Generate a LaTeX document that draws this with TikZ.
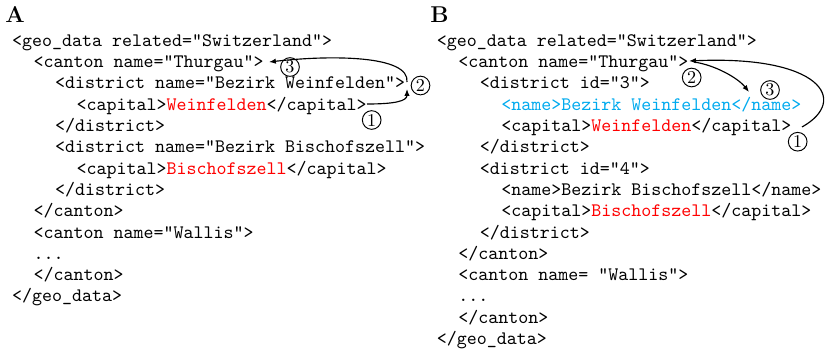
\documentclass[tikz,border=0pt]{standalone}
\usetikzlibrary{arrows.meta}
\definecolor{xcyan}{RGB}{0,170,238}
\definecolor{xred}{RGB}{255,0,0}
\tikzset{
  code/.style={anchor=base west,inner sep=0pt,font=\fontsize{10}{12}\selectfont\ttfamily},
  head/.style={anchor=base west,inner sep=0pt,font=\fontsize{12}{14}\selectfont\bfseries},
  num/.style={draw,circle,inner sep=0pt,minimum size=9.8pt,line width=0.5pt,font=\fontsize{9.5}{10}\selectfont},
  arr/.style={line width=0.6pt,-{Latex[length=3.6pt,width=2.8pt]}}
}
\newcommand{\rd}[1]{\textcolor{xred}{#1}}
\begin{document}
\begin{tikzpicture}[x=0.525pt,y=-0.525pt]
\useasboundingbox (0,0) rectangle (827,348);
% ---------- A ----------
\node[head] (hA) at (5,22) {A};
\node[code] (a1) at (11.8,46.3) {<geo\_data related="Switzerland">};
\node[code] (a2) at (33.3,67.6) {<canton name="Thurgau">};
\node[code] (a3) at (54.8,88.9) {<district name="Bezirk Weinfelden">};
\node[code] (a4) at (76.3,110.2) {<capital>\rd{Weinfelden}</capital>};
\node[code] (a5) at (54.8,131.5) {</district>};
\node[code] (a6) at (54.8,152.8) {<district name="Bezirk Bischofszell">};
\node[code] (a7) at (76.3,174.1) {<capital>\rd{Bischofszell}</capital>};
\node[code] (a8) at (54.8,195.4) {</district>};
\node[code] (a9) at (33.3,216.7) {</canton>};
\node[code] (a10) at (33.3,238.0) {<canton name="Wallis">};
\node[code] (a11) at (33.3,259.3) {...};
\node[code] (a12) at (33.3,280.6) {</canton>};
\node[code] (a13) at (11.8,301.9) {</geo\_data>};
\coordinate (A1s) at (367,104);
\coordinate (A1e) at (407,89);
\coordinate (A2s) at (407,82);
\coordinate (A2e) at (269,62);
\draw[arr] (A1s) .. controls (395,104) and (407,101) .. (A1e);
\draw[arr] (A2s) .. controls (410,55) and (330,55) .. (A2e);
\node[num] (na1) at (371.7,120) {1};
\node[num] (na2) at (420.5,85.5) {2};
\node[num] (na3) at (290,67) {3};
% ---------- B ----------
\node[head] (hB) at (430,22) {B};
\node[code] (b1) at (436.5,46.3) {<geo\_data related="Switzerland">};
\node[code] (b2) at (458,67.6) {<canton name="Thurgau">};
\node[code] (b3) at (479.5,88.9) {<district id="3">};
\node[code,text=xcyan] (b4) at (501,110.2) {<name>Bezirk Weinfelden</name>};
\node[code] (b5) at (501,131.5) {<capital>\rd{Weinfelden}</capital>};
\node[code] (b6) at (479.5,152.8) {</district>};
\node[code] (b7) at (479.5,174.1) {<district id="4">};
\node[code] (b8) at (501,195.4) {<name>Bezirk Bischofszell</name>};
\node[code] (b9) at (501,216.7) {<capital>\rd{Bischofszell}</capital>};
\node[code] (b10) at (479.5,238.0) {</district>};
\node[code] (b11) at (458,259.3) {</canton>};
\node[code] (b12) at (458,280.6) {<canton name= "Wallis">};
\node[code] (b13) at (458,301.9) {...};
\node[code] (b14) at (458,323.2) {</canton>};
\node[code] (b15) at (436.5,344.5) {</geo\_data>};
\coordinate (B1s) at (802,127);
\coordinate (B1e) at (689,61);
\coordinate (B2s) at (694,62);
\coordinate (B2e) at (749,92);
\draw[arr] (B1s) .. controls (850,100) and (820,55) .. (B1e);
\draw[arr] (B2s) .. controls (715,65) and (738,78) .. (B2e);
\node[num] (nb1) at (797.7,141.7) {1};
\node[num] (nb2) at (691.7,77.5) {2};
\node[num] (nb3) at (770,90) {3};
\end{tikzpicture}
\end{document}
